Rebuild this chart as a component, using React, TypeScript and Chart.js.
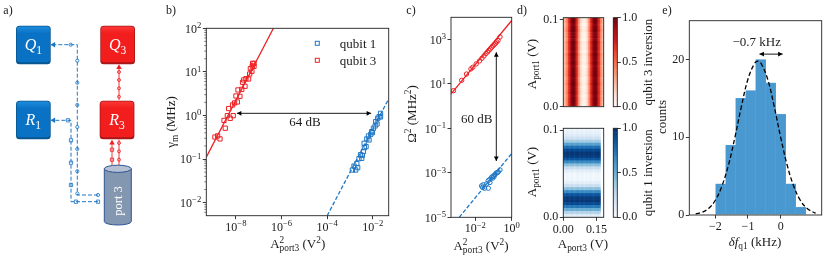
import { useEffect, useRef } from 'react';
import { Chart, registerables } from 'chart.js';

Chart.register(...registerables);

const FONT = '"Liberation Serif"';
const BLUE = '#1f77c4';
const RED = '#ee2024';
const TICK = 12;

// ---------- panel b ----------
const bRedX = [1.2e-9, 1.57e-9, 2.0e-9, 3.0e-9, 3.4e-9, 4.2e-9, 4.8e-9, 5.6e-9, 7.6e-9, 7.1e-9, 8.7e-9, 1e-8, 1.15e-8, 1.23e-8, 1.5e-8, 1.8e-8, 1.95e-8, 2.2e-8, 2.5e-8, 2.75e-8, 3.6e-8, 4e-8, 4.3e-8, 5e-8, 5.2e-8, 6.2e-8, 5.4e-8, 6.2e-8];
const bRedY = [0.32, 0.34, 0.29, 0.77, 0.51, 0.99, 1.44, 0.86, 0.99, 1.74, 1.94, 2.8, 2.04, 3.85, 2.75, 3.98, 5.77, 6.53, 4.67, 7.0, 6.87, 8.95, 11.9, 10.3, 13.7, 13.4, 15.7, 15.7];
const bBlueX = [1.28e-3, 1.51e-3, 1.79e-3, 2.19e-3, 2.0e-3, 2.5e-3, 2.9e-3, 3.3e-3, 3.5e-3, 3.9e-3, 4.3e-3, 4.2e-3, 5.1e-3, 5.5e-3, 6.9e-3, 6.5e-3, 8.2e-3, 9e-3, 9.7e-3, 1.07e-2, 1.27e-2, 1.35e-2, 1.55e-2, 1.65e-2, 1.9e-2, 2.2e-2, 2.2e-2];
const bBlueY = [0.056, 0.069, 0.056, 0.0635, 0.0785, 0.102, 0.126, 0.104, 0.122, 0.148, 0.183, 0.23, 0.193, 0.289, 0.274, 0.339, 0.37, 0.426, 0.404, 0.508, 0.574, 0.72, 0.638, 0.86, 0.94, 1.12, 0.925];
const bRedFitX = [5e-10, 4.4e-7];
const bRedFitY = [0.11, 100];
const bBlueFitX = [1e-4, 0.05];
const bBlueFitY = [0.005, 2.4];
const bArrowX = [1.1e-8, 0.0085];
const bArrowY = 1.12;
const bXTicks = [1e-8, 1e-6, 1e-4, 1e-2];
const bYTicks = [1e-2, 1e-1, 1, 10, 100];

// ---------- panel c ----------
const cRedX = [6.4e-4, 1.8e-3, 3.3e-3, 5.8e-3, 7.4e-3, 0.0113, 0.0173, 0.0233, 0.03, 0.0386, 0.0477, 0.0565, 0.067, 0.0794, 0.0938, 0.111, 0.132, 0.149, 0.177, 0.228];
const cRedY = [5.0, 14.6, 28, 47.5, 56.5, 80, 109, 144, 183, 233, 278, 330, 379, 451, 518, 594, 684, 785, 900, 1300];
const cBlueX = [0.0223, 0.0275, 0.0327, 0.0519, 0.0253, 0.042, 0.0519, 0.064, 0.079, 0.098, 0.121, 0.162, 0.184, 0.228, 0.138, 0.09, 0.064, 0.107];
const cBlueY = [2.6e-4, 2.9e-4, 2.04e-4, 2.04e-4, 2.2e-4, 3.2e-4, 4.5e-4, 5.2e-4, 6.4e-4, 7.3e-4, 8.4e-4, 1.03e-3, 1.1e-3, 1.36e-3, 9.7e-4, 5.8e-4, 3.7e-4, 6.8e-4];
const cRedFitX = [4.6e-4, 1];
const cRedFitY = [3.5, 7200];
const cBlueFitX = [1.32e-3, 1];
const cBlueFitY = [1e-5, 7.4e-3];
const cArrowX = 0.143;
const cArrowY = [269, 3.4e-3];
const cXTicks = [1e-2, 1];
const cYTicks = [1e-5, 1e-3, 1e-1, 10, 1000];

// ---------- panel d ----------
const q3ColumnProfile = [0.22, 0.3, 0.45, 0.65, 0.85, 0.97, 0.98, 0.85, 0.62, 0.35, 0.15, 0.04, 0.02, 0.05, 0.18, 0.4, 0.65, 0.85, 0.97, 0.98, 0.85, 0.65, 0.42, 0.25];
const q1RowProfile = [0.05, 0.08, 0.12, 0.2, 0.35, 0.55, 0.75, 0.9, 0.97, 0.95, 0.85, 0.65, 0.42, 0.22, 0.1, 0.04, 0.03, 0.04, 0.1, 0.22, 0.42, 0.65, 0.85, 0.95, 0.97, 0.9, 0.72, 0.5, 0.3, 0.12];
const rowShade = [0, 0.02, -0.02, 0.01, 0.03, -0.01, 0, -0.03, 0.02, 0, 0.01, -0.02, 0.03, 0, -0.01, 0.02, -0.03, 0, 0.01, 0.02, -0.02, 0, 0.03, -0.01, 0, 0.02, -0.02, 0.01, 0, -0.01];
const colShade = [0.01, -0.02, 0.02, 0, -0.01, 0.02, 0, -0.02, 0.01, 0.02, -0.01, 0, 0.02, -0.02, 0, 0.01, -0.01, 0.02, 0, -0.02, 0.01, 0, 0.02, -0.01];
const REDS = ['#fff5f0', '#fee0d2', '#fcbba1', '#fc9272', '#fb6a4a', '#ef3b2c', '#cb181d', '#a50f15', '#67000d'];
const BLUES = ['#f7fbff', '#deebf7', '#c6dbef', '#9ecae1', '#6baed6', '#4292c6', '#2171b5', '#08519c', '#08306b'];
const dXMax = 0.17;
const dYMax = 0.102;
const dXTicks = [0, 0.15];
const dYTicks = [0, 0.1];
const cbTicks = [0, 0.5, 1];

// ---------- panel e ----------
const histCenters = [-1.837, -1.53, -1.224, -0.918, -0.612, -0.306, 0, 0.306, 0.612];
const histCounts = [4, 9, 15, 16, 20, 17, 13, 4, 1];
const curveX = [-2.6, -2.4, -2.2, -2.0, -1.8, -1.6, -1.4, -1.2, -1.0, -0.8, -0.7, -0.6, -0.4, -0.2, 0, 0.2, 0.4, 0.6, 0.8, 1.0, 1.07];
const curveY = [0.13, 0.36, 0.87, 1.9, 3.7, 6.4, 10.0, 14.0, 17.5, 19.5, 19.8, 19.5, 17.5, 14.0, 10.0, 6.4, 3.7, 1.9, 0.87, 0.36, 0.25];
const eArrowX = [-0.65, 0.06];
const eArrowY = 20.7;
const eXTicks = [-2, -1, 0];
const eYTicks = [0, 10, 20];

// ---------- panel a (diagram, in page pixels) ----------
const boxes = [
  { name: 'Q', idx: '1', x: 16, y: 25.7, w: 34.7, h: 38.6, c: ['#1f8fe0', '#0a72c4', '#08568f'] },
  { name: 'R', idx: '1', x: 16, y: 100.7, w: 34.7, h: 38.6, c: ['#1f8fe0', '#0a72c4', '#08568f'] },
  { name: 'Q', idx: '3', x: 100.3, y: 25.7, w: 34.7, h: 38.6, c: ['#ff3a3a', '#f21d1d', '#a81616'] },
  { name: 'R', idx: '3', x: 99.7, y: 100.7, w: 34.7, h: 38.6, c: ['#ff3a3a', '#f21d1d', '#a81616'] },
];
const q1Line = [{ x: 98, y: 195 }, { x: 77.3, y: 195 }, { x: 77.3, y: 44.7 }, { x: 54, y: 44.7 }];
const q1Nodes = [{ x: 98, y: 195 }, { x: 77.3, y: 193.5 }, { x: 77.3, y: 171.3 }, { x: 77.3, y: 149 }, { x: 77.3, y: 127 }, { x: 77.3, y: 105 }, { x: 77.3, y: 82.7 }, { x: 77.3, y: 60.7 }, { x: 70.7, y: 44.7 }];
const r1Line = [{ x: 98, y: 201.7 }, { x: 71, y: 201.7 }, { x: 71, y: 120.3 }, { x: 54, y: 120.3 }];
const r1Nodes = [{ x: 98, y: 201.7 }, { x: 76, y: 201.7 }, { x: 71, y: 185 }, { x: 71, y: 162.7 }, { x: 71, y: 140.3 }, { x: 68, y: 120.3 }];
const leftHeads = [{ x: 53.5, y: 44.7 }, { x: 53.5, y: 120.3 }];
const q3Line = [{ x: 119, y: 100 }, { x: 119, y: 67 }];
const q3Nodes = [{ x: 119, y: 96.7 }, { x: 119, y: 88.3 }, { x: 119, y: 80 }, { x: 119, y: 72 }];
const r3SqLine = [{ x: 112, y: 165 }, { x: 112, y: 142 }];
const r3SqNodes = [{ x: 112, y: 149.7 }, { x: 112, y: 159.7 }];
const r3CiLine = [{ x: 119, y: 165 }, { x: 119, y: 139.5 }];
const r3CiNodes = [{ x: 119, y: 143 }, { x: 119, y: 151.3 }, { x: 119, y: 159.7 }];
const upHeads = [{ x: 119, y: 67.5 }, { x: 112, y: 143 }];

// ---------- helpers ----------
type Run = { t: string; sub?: boolean; sup?: boolean; it?: boolean; noAdv?: boolean };
type Frame = { l: number; r: number; t: number; b: number };
type Rect = { x: number; y: number; w: number; h: number };

const SUP: Record<string, string> = { '-': '⁻', '0': '⁰', '1': '¹', '2': '²', '3': '³', '4': '⁴', '5': '⁵', '6': '⁶', '7': '⁷', '8': '⁸', '9': '⁹' };
const pow10 = (v: number) => '10' + String(Math.round(Math.log10(v))).split('').map((c) => SUP[c]).join('');

function rich(ctx: any, runs: Run[], x: number, y: number, o: { rot?: number; size?: number; color?: string } = {}) {
  const size = o.size ?? 12.5;
  const fontOf = (r: Run) => `${r.it ? 'italic ' : ''}${r.sub || r.sup ? size * 0.72 : size}px ${FONT}`;
  let total = 0;
  for (const r of runs) {
    ctx.font = fontOf(r);
    if (!r.noAdv) total += ctx.measureText(r.t).width;
  }
  ctx.save();
  ctx.translate(x, y);
  ctx.rotate(o.rot ?? 0);
  ctx.fillStyle = o.color ?? '#1a1a1a';
  ctx.textBaseline = 'alphabetic';
  ctx.textAlign = 'left';
  let cx = -total / 2;
  for (const r of runs) {
    ctx.font = fontOf(r);
    const dy = size * 0.33 + (r.sub ? size * 0.24 : r.sup ? -size * 0.38 : 0);
    ctx.fillText(r.t, cx, dy);
    if (!r.noAdv) cx += ctx.measureText(r.t).width;
  }
  ctx.restore();
}

// power-of-ten tick labels, placed from the library's scale ticks
function powerLabels(ctx: any, chart: any, rect: Rect, f: Frame) {
  const mant = `${TICK}px ${FONT}`;
  const sup = `${TICK * 0.72}px ${FONT}`;
  const parts = (v: number) => String(Math.round(Math.log10(v))).replace('-', '−');
  const width = (e: string) => {
    ctx.font = mant;
    const a = ctx.measureText('10').width;
    ctx.font = sup;
    return a + ctx.measureText(e).width;
  };
  const one = (v: number, x: number, base: number) => {
    const e = parts(v);
    ctx.font = mant;
    ctx.fillText('10', x, base);
    const a = ctx.measureText('10').width;
    ctx.font = sup;
    ctx.fillText(e, x + a, base - 4.6);
  };
  ctx.save();
  ctx.fillStyle = '#1a1a1a';
  ctx.textBaseline = 'alphabetic';
  ctx.textAlign = 'left';
  for (const t of chart.scales.x.ticks) {
    const e = parts(t.value);
    one(t.value, chart.scales.x.getPixelForValue(t.value) + rect.x - width(e) / 2, f.b + 15);
  }
  for (const t of chart.scales.y.ticks) {
    const e = parts(t.value);
    one(t.value, f.l - 5 - width(e), chart.scales.y.getPixelForValue(t.value) + rect.y + 4.3);
  }
  ctx.restore();
}

function arrow(ctx: any, x1: number, y1: number, x2: number, y2: number) {
  const head = (hx: number, hy: number, ux: number, uy: number) => {
    ctx.beginPath();
    ctx.moveTo(hx, hy);
    ctx.lineTo(hx - ux * 4.5 - uy * 2.4, hy - uy * 4.5 + ux * 2.4);
    ctx.lineTo(hx - ux * 4.5 + uy * 2.4, hy - uy * 4.5 - ux * 2.4);
    ctx.closePath();
    ctx.fill();
  };
  const d = Math.hypot(x2 - x1, y2 - y1);
  const ux = (x2 - x1) / d;
  const uy = (y2 - y1) / d;
  ctx.save();
  ctx.strokeStyle = '#000';
  ctx.fillStyle = '#000';
  ctx.lineWidth = 0.9;
  ctx.beginPath();
  ctx.moveTo(x1, y1);
  ctx.lineTo(x2, y2);
  ctx.stroke();
  head(x2, y2, ux, uy);
  head(x1, y1, -ux, -uy);
  ctx.restore();
}

const AXIS_X_LABEL = (p: string): Run[] => [{ t: 'A' }, { t: '2', sup: true, noAdv: true }, { t: p, sub: true }, { t: ' (V' }, { t: '2', sup: true }, { t: ')' }];
const A_LABEL = (p: string): Run[] => [{ t: 'A' }, { t: p, sub: true }, { t: ' (V)' }];

function overlay(rect: Rect, frame: Frame | null, draw: (ctx: any, chart: any) => void, minor?: () => number[]) {
  return {
    id: 'overlay',
    afterDatasetsDraw(chart: any) {
      const ctx = chart.ctx;
      ctx.save();
      ctx.translate(-rect.x, -rect.y);
      if (frame) {
        ctx.strokeStyle = '#222';
        ctx.lineWidth = 0.9;
        ctx.strokeRect(frame.l, frame.t, frame.r - frame.l, frame.b - frame.t);
      }
      if (minor) {
        ctx.strokeStyle = '#222';
        ctx.lineWidth = 0.6;
        for (const v of minor()) {
          const p = chart.scales.y.getPixelForValue(v) + rect.y;
          ctx.beginPath();
          ctx.moveTo(frame!.l, p);
          ctx.lineTo(frame!.l - 2, p);
          ctx.stroke();
        }
      }
      ctx.restore();
      ctx.save();
      ctx.translate(-rect.x, -rect.y);
      draw(ctx, chart);
      ctx.restore();
    },
  };
}

function axis(type: string, position: string, min: number, max: number, vals: number[], fmt: (v: number) => string, thickness: number, showLabels = true) {
  return {
    type,
    position,
    min,
    max,
    offset: false,
    border: { display: false },
    grid: { display: true, offset: false, drawOnChartArea: false, drawTicks: true, tickLength: 3.5, tickColor: '#222', tickWidth: 0.9 },
    ticks: { display: showLabels, autoSkip: false, maxRotation: 0, minRotation: 0, padding: 1.5, color: '#1a1a1a', font: { family: FONT, size: TICK }, callback: (v: number) => fmt(Number(v)) },
    afterBuildTicks: (s: any) => {
      s.ticks = vals.map((value) => ({ value }));
    },
    afterFit: (s: any) => {
      if (position === 'left' || position === 'right') s.width = thickness;
      else s.height = thickness;
    },
  };
}

const hidden = (min: number, max: number) => ({ type: 'linear', min, max, display: false, offset: false, stacked: true, grid: { offset: false } });

function baseOptions(scales: any, padding: any) {
  return {
    responsive: false,
    animation: false as const,
    devicePixelRatio: 1,
    layout: { autoPadding: false, padding },
    plugins: { legend: { display: false }, tooltip: { enabled: false } },
    elements: { point: { hitRadius: 0 } },
    scales,
  };
}

const zip = (xs: number[], ys: number[]) => xs.map((x, i) => ({ x, y: ys[i] }));

function cmap(stops: string[], v: number) {
  const t = Math.min(0.9999, Math.max(0, v)) * (stops.length - 1);
  const i = Math.floor(t);
  const f = t - i;
  const rgb = (s: string) => [1, 3, 5].map((k) => parseInt(s.slice(k, k + 2), 16));
  const a = rgb(stops[i]);
  const b = rgb(stops[i + 1]);
  return `rgb(${a.map((c, k) => Math.round(c + (b[k] - c) * f)).join(',')})`;
}

function scatterSet(data: any[], color: string, style: string, r: number) {
  return { type: 'scatter', data, showLine: false, pointStyle: style, pointRadius: r, pointBorderWidth: 1, pointBorderColor: color, pointBackgroundColor: 'rgba(0,0,0,0)', borderColor: color };
}
function lineSet(data: any[], color: string, dash: number[], w = 1.3) {
  return { type: 'scatter', data, showLine: true, pointRadius: 0, borderColor: color, borderWidth: w, borderDash: dash, fill: false };
}

// ---------- chart configs ----------
function panelA(rect: Rect) {
  const nodes = (data: any[], color: string, style: string, r: number) => ({
    type: 'scatter', data, showLine: false, pointStyle: style, pointRadius: r, pointBorderWidth: 0.85, pointBorderColor: color, pointBackgroundColor: '#fff',
  });
  const heads = (data: any[], color: string, rot: number) => ({
    type: 'scatter', data, showLine: false, pointStyle: 'triangle', pointRadius: 3.2, pointRotation: rot, pointBorderWidth: 0, pointBackgroundColor: color,
  });
  const rad = (ctx: any, x: number, y: number, w: number, h: number, r: number) => {
    ctx.beginPath();
    ctx.roundRect(x, y, w, h, r);
  };
  return {
    type: 'scatter',
    data: {
      datasets: [
        lineSet(q1Line, BLUE, [4, 2], 1.0), nodes(q1Nodes, BLUE, 'circle', 1.6),
        lineSet(r1Line, BLUE, [4, 2], 1.0), nodes(r1Nodes, BLUE, 'rect', 2.3),
        lineSet(q3Line, RED, [], 0.9), nodes(q3Nodes, RED, 'circle', 1.5),
        lineSet(r3SqLine, RED, [], 0.9), nodes(r3SqNodes, RED, 'rect', 2.3),
        lineSet(r3CiLine, RED, [], 0.9), nodes(r3CiNodes, RED, 'circle', 1.5),
        heads(leftHeads, BLUE, -90), heads(upHeads, RED, 0),
      ],
    },
    options: baseOptions(
      { x: { type: 'linear', min: rect.x, max: rect.x + rect.w, display: false }, y: { type: 'linear', reverse: true, min: rect.y, max: rect.y + rect.h, display: false } },
      0,
    ),
    plugins: [{
      id: 'diagram',
      beforeDatasetsDraw(chart: any) {
        const ctx = chart.ctx;
        ctx.save();
        ctx.translate(-rect.x, -rect.y);
        for (const b of boxes) {
          rad(ctx, b.x, b.y, b.w, b.h, 3.5);
          ctx.fillStyle = b.c[2];
          ctx.fill();
          const g = ctx.createLinearGradient(0, b.y, 0, b.y + b.h);
          g.addColorStop(0, b.c[0]);
          g.addColorStop(0.2, b.c[1]);
          g.addColorStop(1, b.c[1]);
          rad(ctx, b.x + 0.8, b.y + 0.8, b.w - 1.6, b.h - 2.8, 3);
          ctx.fillStyle = g;
          ctx.fill();
          rich(ctx, [{ t: b.name, it: true }, { t: b.idx, sub: true }], b.x + b.w / 2, b.y + b.h / 2, { size: 16, color: '#fff' });
        }
        // port cylinder
        ctx.fillStyle = '#8497b0';
        ctx.strokeStyle = '#2f5597';
        ctx.lineWidth = 1;
        ctx.beginPath();
        ctx.moveTo(104.3, 168.8);
        ctx.lineTo(104.3, 221.5);
        ctx.ellipse(117.8, 221.5, 13.5, 3.5, 0, Math.PI, 0, true);
        ctx.lineTo(131.3, 168.8);
        ctx.closePath();
        ctx.fill();
        ctx.stroke();
        ctx.fillStyle = '#b5c1d3';
        ctx.beginPath();
        ctx.ellipse(117.8, 168.8, 13.5, 3.6, 0, 0, Math.PI * 2);
        ctx.fill();
        ctx.stroke();
        rich(ctx, [{ t: 'port 3' }], 117.7, 201, { rot: -Math.PI / 2, size: 12.5, color: '#fff' });
        rich(ctx, [{ t: 'a)' }], 8, 10, { size: 12 });
        ctx.restore();
      },
    }],
  };
}

function panelB(rect: Rect, f: Frame) {
  const minorVals: number[] = [];
  for (const dec of [1e-3, 1e-2, 1e-1, 1, 10]) for (const m of [2, 3, 4, 5, 6, 7, 8, 9]) if (dec * m > 0.005) minorVals.push(dec * m);
  return {
    type: 'scatter',
    data: {
      datasets: [
        lineSet(zip(bRedFitX, bRedFitY), RED, []),
        lineSet(zip(bBlueFitX, bBlueFitY), BLUE, [4, 2]),
        scatterSet(zip(bBlueX, bBlueY), BLUE, 'rect', 3),
        scatterSet(zip(bRedX, bRedY), RED, 'rect', 3),
      ],
    },
    options: baseOptions(
      {
        x: axis('logarithmic', 'bottom', 10 ** -9.3, 10 ** -1.3, bXTicks, pow10, rect.y + rect.h - f.b, false),
        y: axis('logarithmic', 'left', 10 ** -2.3, 100, bYTicks, pow10, f.l - rect.x, false),
      },
      { top: f.t - rect.y, right: rect.x + rect.w - f.r },
    ),
    plugins: [overlay(rect, f, (ctx, chart) => {
      const X = (v: number) => chart.scales.x.getPixelForValue(v) + rect.x;
      const Y = (v: number) => chart.scales.y.getPixelForValue(v) + rect.y;
      powerLabels(ctx, chart, rect, f);
      arrow(ctx, X(bArrowX[0]), Y(bArrowY), X(bArrowX[1]), Y(bArrowY));
      rich(ctx, [{ t: '64 dB' }], 305, 122, { size: 13 });
      ctx.lineWidth = 1;
      ctx.strokeStyle = BLUE;
      ctx.strokeRect(315.3, 41.3, 4, 4);
      ctx.strokeStyle = RED;
      ctx.strokeRect(315.3, 58.3, 4, 4);
      rich(ctx, [{ t: 'qubit 1' }], 358, 44, { size: 13 });
      rich(ctx, [{ t: 'qubit 3' }], 358, 61, { size: 13 });
      rich(ctx, [{ t: 'b)' }], 171, 10, { size: 12 });
      rich(ctx, [{ t: 'γ' }, { t: 'm', sub: true }, { t: ' (MHz)' }], 171, 122, { rot: -Math.PI / 2, size: 13 });
      rich(ctx, AXIS_X_LABEL('port3'), 297.7, 243.5, { size: 13 });
    }, () => minorVals)],
  };
}

function panelC(rect: Rect, f: Frame) {
  return {
    type: 'scatter',
    data: {
      datasets: [
        lineSet(zip(cRedFitX, cRedFitY), RED, []),
        lineSet(zip(cBlueFitX, cBlueFitY), BLUE, [4, 2]),
        scatterSet(zip(cBlueX, cBlueY), BLUE, 'circle', 2.2),
        scatterSet(zip(cRedX, cRedY), RED, 'circle', 2.2),
      ],
    },
    options: baseOptions(
      {
        x: axis('logarithmic', 'bottom', 10 ** -3.33, 1, cXTicks, pow10, rect.y + rect.h - f.b, false),
        y: axis('logarithmic', 'left', 1e-5, 1e4, cYTicks, pow10, f.l - rect.x, false),
      },
      { top: f.t - rect.y, right: rect.x + rect.w - f.r },
    ),
    plugins: [overlay(rect, f, (ctx, chart) => {
      const X = (v: number) => chart.scales.x.getPixelForValue(v) + rect.x;
      const Y = (v: number) => chart.scales.y.getPixelForValue(v) + rect.y;
      powerLabels(ctx, chart, rect, f);
      arrow(ctx, X(cArrowX), Y(cArrowY[0]), X(cArrowX), Y(cArrowY[1]));
      rich(ctx, [{ t: '60 dB' }], 476.7, 119, { size: 13 });
      rich(ctx, [{ t: 'c)' }], 411, 10, { size: 12 });
      rich(ctx, [{ t: 'Ω' }, { t: '2', sup: true }, { t: ' (MHz' }, { t: '2', sup: true }, { t: ')' }], 412, 114, { rot: -Math.PI / 2, size: 13 });
      rich(ctx, AXIS_X_LABEL('port3'), 481, 245.5, { size: 13 });
    })],
  };
}

function heatmap(rect: Rect, f: Frame, cellValue: (col: number, row: number) => number, stops: string[], nCols: number, nRows: number, showX: boolean, extra: (ctx: any) => void) {
  const dx = dXMax / nCols;
  const dy = dYMax / nRows;
  const datasets = [];
  for (let row = nRows - 1; row >= 0; row--) {
    const data = [];
    const colors = [];
    for (let col = 0; col < nCols; col++) {
      data.push({ x: dx * (col + 0.5), y: dy });
      colors.push(cmap(stops, cellValue(col, row)));
    }
    datasets.push({ data, backgroundColor: colors, barPercentage: 1, categoryPercentage: 1, borderWidth: 0 });
  }
  const xAxis = showX
    ? { ...axis('linear', 'bottom', 0, dXMax, dXTicks, (v) => v.toFixed(2), rect.y + rect.h - f.b), stacked: true }
    : hidden(0, dXMax);
  return {
    type: 'bar',
    data: { datasets },
    options: baseOptions(
      { x: xAxis, y: { ...axis('linear', 'left', 0, dYMax, dYTicks, (v) => v.toFixed(1), f.l - rect.x), stacked: true } },
      { top: f.t - rect.y, right: rect.x + rect.w - f.r, bottom: showX ? 0 : rect.y + rect.h - f.b },
    ),
    plugins: [overlay(rect, f, extra)],
  };
}

function colorbar(rect: Rect, f: Frame, stops: string[], label: string) {
  const levels = Array.from({ length: 64 }, (_, i) => i);
  return {
    type: 'bar',
    data: {
      labels: ['c'],
      datasets: levels.map((i) => ({ data: [1 / 64], backgroundColor: cmap(stops, (i + 0.5) / 64), barPercentage: 1, categoryPercentage: 1, borderWidth: 0 })),
    },
    options: baseOptions(
      {
        x: { type: 'category', display: false, stacked: true },
        y: { ...axis('linear', 'right', 0, 1, cbTicks, (v) => v.toFixed(1), rect.x + rect.w - f.r), stacked: true },
      },
      { top: f.t - rect.y, left: f.l - rect.x, bottom: rect.y + rect.h - f.b },
    ),
    plugins: [overlay(rect, f, (ctx) => {
      rich(ctx, [{ t: label }], 648, (f.t + f.b) / 2, { rot: -Math.PI / 2, size: 12.8 });
    })],
  };
}

function panelE(rect: Rect, f: Frame) {
  return {
    type: 'bar',
    data: {
      datasets: [
        { type: 'bar', data: zip(histCenters, histCounts), backgroundColor: '#4a98d0', borderColor: '#5ba3d8', borderWidth: 0.5, barPercentage: 1, categoryPercentage: 1, order: 2 },
        { type: 'scatter', data: zip(curveX, curveY), showLine: true, pointRadius: 0, borderColor: '#000', borderWidth: 1.3, borderDash: [4.5, 2.5], tension: 0.4, fill: false, order: 1 },
      ],
    },
    options: baseOptions(
      {
        x: axis('linear', 'bottom', -2.796, 1.255, eXTicks, (v) => (v < 0 ? '−' + Math.abs(v) : String(v)), rect.y + rect.h - f.b),
        y: axis('linear', 'left', 0, 25, eYTicks, (v) => String(v), f.l - rect.x),
      },
      { top: f.t - rect.y, right: rect.x + rect.w - f.r },
    ),
    plugins: [overlay(rect, f, (ctx, chart) => {
      const X = (v: number) => chart.scales.x.getPixelForValue(v) + rect.x;
      const Y = (v: number) => chart.scales.y.getPixelForValue(v) + rect.y;
      arrow(ctx, X(eArrowX[0]), Y(eArrowY), X(eArrowX[1]), Y(eArrowY));
      rich(ctx, [{ t: '−0.7 kHz' }], 756.7, 41.5, { size: 13 });
      rich(ctx, [{ t: 'e)' }], 667, 10, { size: 12 });
      rich(ctx, [{ t: 'counts' }], 662, 117, { rot: -Math.PI / 2, size: 13 });
      rich(ctx, [{ t: 'δf', it: true }, { t: 'q1', sub: true }, { t: ' (kHz)' }], 755, 241.5, { size: 13 });
    })],
  };
}

// ---------- layout ----------
const rA: Rect = { x: 0, y: 0, w: 165, h: 256 };
const rB: Rect = { x: 162, y: 0, w: 240, h: 256 };
const fB: Frame = { l: 206.3, r: 388.7, t: 28.3, b: 215.7 };
const rC: Rect = { x: 402, y: 0, w: 122, h: 256 };
const fC: Frame = { l: 451, r: 511.7, t: 17.3, b: 217.3 };
const rD1: Rect = { x: 517, y: 0, w: 92, h: 120 };
const fD1: Frame = { l: 563.3, r: 603.7, t: 17.7, b: 106.7 };
const rD2: Rect = { x: 517, y: 118, w: 92, h: 138 };
const fD2: Frame = { l: 563.3, r: 603.7, t: 128.3, b: 217.3 };
const rCb1: Rect = { x: 609, y: 0, w: 50, h: 120 };
const fCb1: Frame = { l: 613.3, r: 617.3, t: 17.7, b: 106.7 };
const rCb2: Rect = { x: 609, y: 118, w: 50, h: 112 };
const fCb2: Frame = { l: 613.3, r: 617.3, t: 128.3, b: 217.3 };
const rE: Rect = { x: 655, y: 0, w: 175, h: 256 };
const fE: Frame = { l: 689.3, r: 821.7, t: 20.7, b: 215 };

const q3Cell = (col: number, row: number) => q3ColumnProfile[col] + rowShade[row];
const q1Cell = (col: number, row: number) => q1RowProfile[row] + colShade[col];

const CONFIGS: { rect: Rect; make: () => any }[] = [
  { rect: rA, make: () => panelA(rA) },
  { rect: rB, make: () => panelB(rB, fB) },
  { rect: rC, make: () => panelC(rC, fC) },
  {
    rect: rD1,
    make: () => heatmap(rD1, fD1, q3Cell, REDS, 24, 30, false, (ctx) => {
      rich(ctx, [{ t: 'd)' }], 522, 10, { size: 12 });
      rich(ctx, A_LABEL('port1'), 532, 64, { rot: -Math.PI / 2, size: 13 });
    }),
  },
  {
    rect: rD2,
    make: () => heatmap(rD2, fD2, q1Cell, BLUES, 24, 30, true, (ctx) => {
      rich(ctx, A_LABEL('port1'), 532, 172, { rot: -Math.PI / 2, size: 13 });
      rich(ctx, A_LABEL('port3'), 583, 243.5, { size: 13 });
    }),
  },
  { rect: rCb1, make: () => colorbar(rCb1, fCb1, REDS, 'qubit 3 inversion') },
  { rect: rCb2, make: () => colorbar(rCb2, fCb2, BLUES, 'qubit 1 inversion') },
  { rect: rE, make: () => panelE(rE, fE) },
];

function Panel({ rect, make }: { rect: Rect; make: () => any }) {
  const ref = useRef<HTMLCanvasElement | null>(null);
  useEffect(() => {
    const chart = new Chart(ref.current as HTMLCanvasElement, make());
    return () => chart.destroy();
  }, []);
  return (
    <canvas
      ref={ref}
      width={rect.w}
      height={rect.h}
      style={{ position: 'absolute', left: rect.x, top: rect.y, width: rect.w, height: rect.h, display: 'block' }}
    />
  );
}

export default function App() {
  return (
    <div style={{ position: 'absolute', left: 0, top: 0, width: 830, height: 256, background: '#fff', overflow: 'hidden' }}>
      {CONFIGS.map((c, i) => (
        <Panel key={i} rect={c.rect} make={c.make} />
      ))}
    </div>
  );
}
